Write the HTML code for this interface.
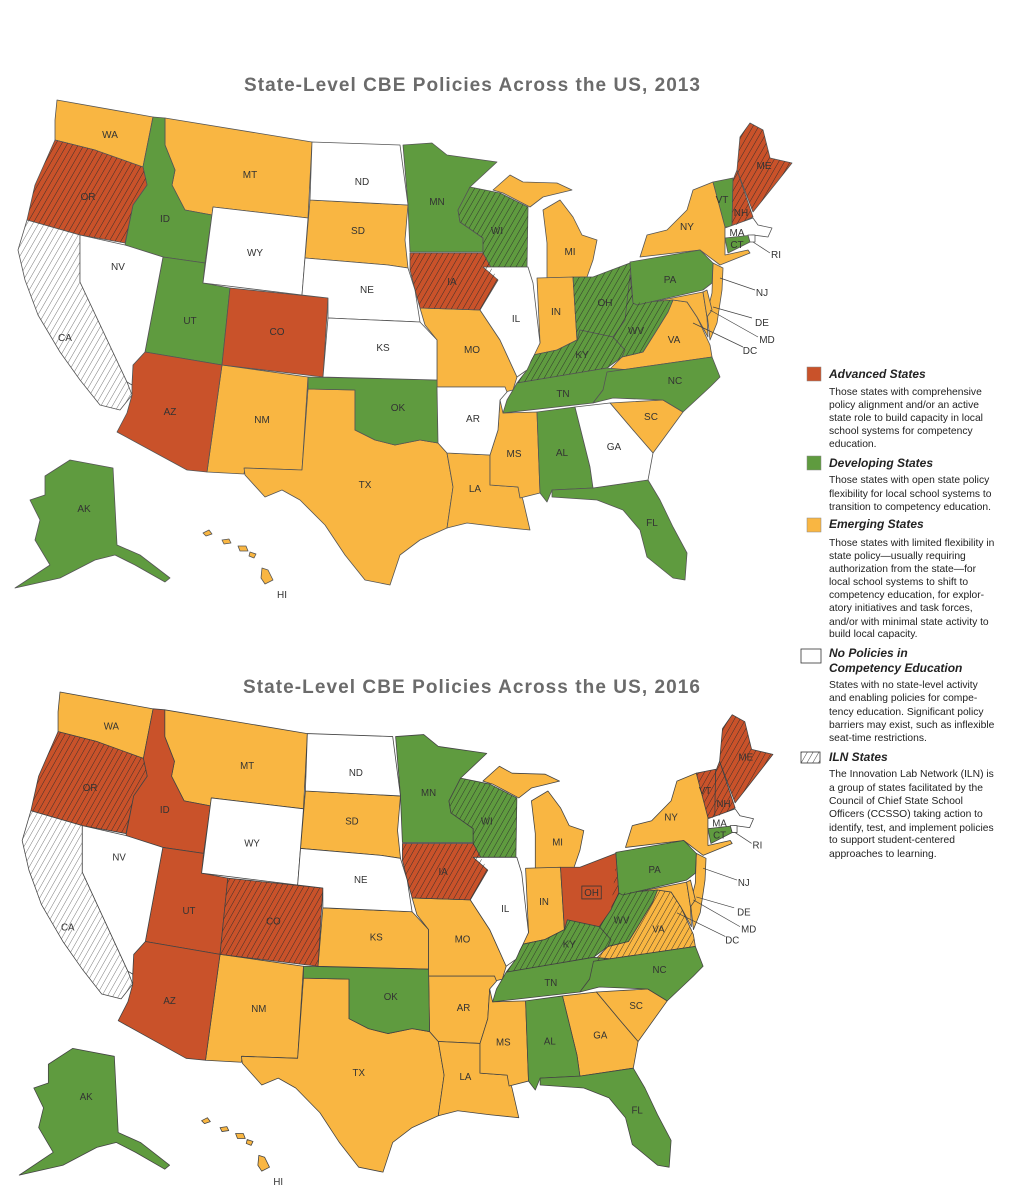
<!DOCTYPE html>
<html><head><meta charset="utf-8"><style>
body{margin:0;background:#fff}
svg{display:block}
.t{font-family:"Liberation Sans",sans-serif;font-weight:bold;font-size:19px;fill:#6b6b6b}
.l{font-family:"Liberation Sans",sans-serif;font-size:10px;fill:#333;text-anchor:middle}
.lg{font-family:"Liberation Sans",sans-serif;font-size:10.3px;fill:#222}
.lh{font-family:"Liberation Sans",sans-serif;font-size:12px;font-weight:bold;font-style:italic;fill:#222}
</style></head><body>
<svg width="1022" height="1200" viewBox="0 0 1022 1200" xmlns="http://www.w3.org/2000/svg">
<defs>
<pattern id="h" patternUnits="userSpaceOnUse" width="5" height="5" patternTransform="rotate(30)">
<line x1="0" y1="0" x2="0" y2="5" stroke="#2a2a2a" stroke-width="0.9"/></pattern>
<pattern id="hg" patternUnits="userSpaceOnUse" width="5" height="5" patternTransform="rotate(30)">
<line x1="0" y1="0" x2="0" y2="5" stroke="#555" stroke-width="0.8"/></pattern>
<path id="WA" d="M57,100 L153,117 L143,167 L120,162 L95,150 L55,140 L55,120 Z"/>
<path id="OR" d="M55,140 L95,150 L143,167 L147,185 L133,205 L125,243 L80,235 L27,220 L35,185 Z"/>
<path id="CA" d="M27,220 L80,235 L80,282 L127,382 L132,395 L120,410 L100,405 L80,380 L60,352 L38,315 L25,280 L18,250 Z"/>
<path id="NV" d="M80,235 L125,245 L163,257 L145,352 L133,365 L132,385 L127,382 L80,282 Z"/>
<path id="ID" d="M153,117 L165,118 L165,145 L175,170 L172,185 L185,210 L212,215 L205,263 L163,257 L125,245 L133,205 L147,185 L143,167 Z"/>
<path id="MT" d="M165,118 L312,142 L308,218 L213,207 L212,215 L185,210 L172,185 L175,170 L165,145 Z"/>
<path id="WY" d="M213,207 L308,218 L302,295 L203,283 Z"/>
<path id="UT" d="M163,257 L205,263 L203,283 L230,288 L222,365 L145,352 Z"/>
<path id="CO" d="M230,288 L328,298 L323,377 L222,365 Z"/>
<path id="AZ" d="M145,352 L222,365 L207,472 L187,470 L117,432 L127,413 L132,395 L132,385 L133,365 Z"/>
<path id="NM" d="M222,365 L308,377 L302,470 L245,468 L244,474 L207,472 Z"/>
<path id="ND" d="M312,142 L400,145 L408,205 L310,200 Z"/>
<path id="SD" d="M310,200 L408,205 L405,240 L408,268 L388,265 L305,258 Z"/>
<path id="NE" d="M305,258 L388,265 L408,268 L415,290 L420,322 L328,318 L328,298 L302,295 Z"/>
<path id="KS" d="M328,318 L420,322 L437,340 L437,380 L323,377 Z"/>
<path id="OK" d="M308,377 L437,380 L438,443 L420,440 L395,445 L375,440 L355,430 L355,390 L308,389 Z"/>
<path id="TX" d="M308,389 L355,390 L355,430 L375,440 L395,445 L420,440 L438,443 L447,453 L453,487 L447,528 L420,540 L400,555 L390,585 L365,580 L345,555 L325,525 L300,500 L282,490 L265,497 L245,475 L244,468 L302,470 Z"/>
<path id="MN" d="M403,145 L432,143 L447,155 L497,162 L470,187 L458,210 L460,222 L483,238 L483,252 L410,252 L408,205 Z"/>
<path id="IA" d="M410,253 L483,253 L498,280 L480,310 L420,308 L415,290 L410,270 Z"/>
<path id="MO" d="M420,308 L480,310 L500,340 L517,377 L513,390 L505,392 L505,387 L437,387 L437,340 L425,325 Z"/>
<path id="AR" d="M437,387 L505,387 L507,392 L500,400 L498,430 L490,455 L447,453 L438,443 Z"/>
<path id="LA" d="M447,453 L490,455 L490,485 L518,487 L523,500 L530,530 L500,527 L467,523 L447,528 L453,487 Z"/>
<path id="WI" d="M470,187 L500,193 L528,207 L527,267 L483,267 L483,238 L460,222 L458,210 Z"/>
<path id="MI" d="M493,190 L510,175 L523,182 L557,183 L572,190 L543,197 L530,207 L503,193 Z M547,243 L543,210 L560,200 L573,217 L582,235 L597,240 L593,260 L587,277 L547,278 Z"/>
<path id="IL" d="M483,267 L528,267 L533,283 L540,343 L527,370 L517,377 L500,340 L480,310 L498,280 Z"/>
<path id="IN" d="M537,278 L573,277 L577,340 L557,350 L533,355 L540,343 Z"/>
<path id="OH" d="M573,277 L593,277 L630,263 L633,303 L625,320 L613,337 L580,330 L577,340 Z"/>
<path id="KY" d="M517,383 L527,370 L533,355 L557,350 L577,340 L580,330 L613,337 L625,350 L622,357 L607,368 Z"/>
<path id="WV" d="M630,275 L633,303 L673,300 L668,312 L655,333 L643,352 L622,357 L625,350 L613,337 L625,320 Z"/>
<path id="PA" d="M630,262 L700,250 L713,263 L712,283 L703,290 L637,305 L633,303 Z"/>
<path id="NY" d="M640,257 L647,235 L667,230 L687,210 L693,190 L713,182 L725,223 L725,255 L748,250 L750,253 L720,265 L700,250 Z"/>
<path id="VT" d="M713,182 L733,178 L732,227 L725,227 Z"/>
<path id="NH" d="M733,180 L737,170 L753,217 L732,227 Z"/>
<path id="ME" d="M737,170 L740,137 L750,123 L763,130 L770,158 L792,163 L777,182 L753,212 Z"/>
<path id="MA" d="M725,228 L753,218 L758,225 L772,228 L768,237 L753,235 L725,238 Z"/>
<path id="CT" d="M725,238 L748,235 L750,242 L728,253 Z"/>
<path id="RI" d="M748,235 L755,235 L755,242 L750,242 Z"/>
<path id="NJ" d="M713,263 L723,268 L722,290 L717,323 L710,340 L707,313 L712,293 Z"/>
<path id="MD" d="M637,305 L703,292 L707,317 L708,337 L697,317 L687,302 L673,300 Z"/>
<path id="DE" d="M703,292 L707,290 L712,310 L707,317 Z"/>
<path id="VA" d="M673,300 L687,302 L697,317 L710,345 L712,357 L607,372 L622,357 L643,352 L655,333 L668,312 Z"/>
<path id="TN" d="M517,383 L607,368 L630,370 L603,390 L593,403 L503,413 L507,400 L513,390 Z"/>
<path id="NC" d="M607,372 L712,357 L720,377 L710,387 L683,412 L663,400 L613,398 L593,403 L603,390 Z"/>
<path id="SC" d="M610,403 L663,400 L683,412 L653,453 L633,430 Z"/>
<path id="GA" d="M575,407 L610,403 L633,430 L653,453 L648,480 L593,488 L590,467 Z"/>
<path id="AL" d="M537,412 L575,407 L590,467 L593,488 L552,490 L547,502 L540,493 Z"/>
<path id="MS" d="M503,413 L537,412 L540,493 L520,498 L518,487 L490,485 L490,455 L498,430 L500,400 Z"/>
<path id="FL" d="M552,490 L593,488 L648,480 L660,500 L673,527 L687,553 L685,580 L673,578 L647,557 L640,530 L623,510 L597,500 L567,498 L552,497 Z"/>
<path id="AK" d="M45,476 L70,460 L113,468 L117,545 L140,555 L170,578 L165,582 L135,565 L115,555 L95,560 L60,578 L15,588 L50,565 L35,540 L40,520 L30,500 L45,495 Z"/>
<path id="HI" d="M203,533 l6,-3 l3,4 l-6,2 Z M222,540 l7,-1 l2,4 l-7,1 Z M238,546 l8,0 l2,5 l-8,0 Z M250,552 l6,2 l-2,4 l-5,-2 Z M262,568 l6,2 l5,10 l-8,4 l-4,-6 Z"/>
</defs>

<text class="t" x="244" y="91" textLength="456">State-Level CBE Policies Across the US, 2013</text>
<text class="t" x="243" y="693" textLength="457">State-Level CBE Policies Across the US, 2016</text>

<!-- MAP 2013 -->
<g stroke="#555" stroke-width="0.8" stroke-linejoin="round">
<g fill="#f9b642"><use href="#WA"/><use href="#MT"/><use href="#SD"/><use href="#NM"/><use href="#TX"/><use href="#MO"/><use href="#LA"/><use href="#MI"/><use href="#IN"/><use href="#MS"/><use href="#SC"/><use href="#VA"/><use href="#NY"/><use href="#NJ"/><use href="#MD"/><use href="#DE"/><use href="#HI"/></g>
<g fill="#5f9b3f"><use href="#ID"/><use href="#UT"/><use href="#OK"/><use href="#MN"/><use href="#WI"/><use href="#OH"/><use href="#KY"/><use href="#WV"/><use href="#TN"/><use href="#AL"/><use href="#FL"/><use href="#NC"/><use href="#PA"/><use href="#VT"/><use href="#CT"/><use href="#AK"/></g>
<g fill="#c9522a"><use href="#OR"/><use href="#CO"/><use href="#AZ"/><use href="#IA"/><use href="#NH"/><use href="#ME"/></g>
<g fill="#fff"><use href="#CA"/><use href="#NV"/><use href="#WY"/><use href="#ND"/><use href="#NE"/><use href="#KS"/><use href="#AR"/><use href="#IL"/><use href="#GA"/><use href="#MA"/><use href="#RI"/></g>
<g fill="url(#h)" stroke="none"><use href="#OR"/><use href="#IA"/><use href="#WI"/><use href="#OH"/><use href="#KY"/><use href="#WV"/><use href="#NH"/><use href="#ME"/></g>
<g fill="url(#hg)" stroke="none"><use href="#CA"/></g>
</g>
<g class="l">
<text x="110" y="138">WA</text><text x="88" y="200">OR</text><text x="165" y="222">ID</text><text x="250" y="178">MT</text><text x="362" y="185">ND</text><text x="358" y="234">SD</text><text x="255" y="256">WY</text><text x="367" y="293">NE</text><text x="118" y="270">NV</text><text x="190" y="324">UT</text><text x="277" y="335">CO</text><text x="383" y="351">KS</text><text x="65" y="341">CA</text><text x="170" y="415">AZ</text><text x="262" y="423">NM</text><text x="398" y="411">OK</text><text x="365" y="488">TX</text><text x="84" y="512">AK</text><text x="282" y="598">HI</text><text x="437" y="205">MN</text><text x="497" y="234">WI</text><text x="452" y="285">IA</text><text x="472" y="353">MO</text><text x="473" y="422">AR</text><text x="475" y="492">LA</text><text x="514" y="457">MS</text><text x="562" y="456">AL</text><text x="516" y="322">IL</text><text x="556" y="315">IN</text><text x="570" y="255">MI</text><text x="605" y="306">OH</text><text x="582" y="358">KY</text><text x="563" y="397">TN</text><text x="614" y="450">GA</text><text x="652" y="526">FL</text><text x="651" y="420">SC</text><text x="675" y="384">NC</text><text x="674" y="343">VA</text><text x="636" y="334">WV</text><text x="670" y="283">PA</text><text x="687" y="230">NY</text><text x="722" y="203">VT</text><text x="741" y="216">NH</text><text x="764" y="169">ME</text><text x="737" y="236">MA</text><text x="737" y="248">CT</text>
<text x="776" y="258">RI</text><text x="762" y="296">NJ</text><text x="762" y="326">DE</text><text x="767" y="343">MD</text><text x="750" y="354">DC</text>
</g>
<g stroke="#444" stroke-width="0.7"><line x1="753" y1="242" x2="770" y2="253"/><line x1="720" y1="278" x2="755" y2="290"/><line x1="713" y1="307" x2="752" y2="318"/><line x1="710" y1="310" x2="758" y2="337"/><line x1="693" y1="323" x2="743" y2="347"/></g>

<!-- MAP 2016 -->
<g transform="translate(4.7,593) scale(0.97,0.99)">
<g stroke="#444" stroke-width="0.8" stroke-linejoin="round">
<g fill="#f9b642"><use href="#WA"/><use href="#MT"/><use href="#SD"/><use href="#NM"/><use href="#TX"/><use href="#KS"/><use href="#MO"/><use href="#AR"/><use href="#LA"/><use href="#MI"/><use href="#IN"/><use href="#MS"/><use href="#GA"/><use href="#SC"/><use href="#VA"/><use href="#NY"/><use href="#NJ"/><use href="#MD"/><use href="#DE"/><use href="#HI"/></g>
<g fill="#5f9b3f"><use href="#OK"/><use href="#MN"/><use href="#WI"/><use href="#KY"/><use href="#WV"/><use href="#TN"/><use href="#AL"/><use href="#FL"/><use href="#NC"/><use href="#PA"/><use href="#CT"/><use href="#AK"/></g>
<g fill="#c9522a"><use href="#OR"/><use href="#ID"/><use href="#UT"/><use href="#CO"/><use href="#AZ"/><use href="#IA"/><use href="#OH"/><use href="#VT"/><use href="#NH"/><use href="#ME"/></g>
<g fill="#fff"><use href="#CA"/><use href="#NV"/><use href="#WY"/><use href="#ND"/><use href="#NE"/><use href="#IL"/><use href="#MA"/><use href="#RI"/></g>
<g fill="url(#h)" stroke="none"><use href="#OR"/><use href="#CO"/><use href="#IA"/><use href="#WI"/><use href="#KY"/><use href="#WV"/><use href="#VA"/><use href="#VT"/><use href="#NH"/><use href="#ME"/></g>
<g fill="url(#hg)" stroke="none"><use href="#CA"/></g>
</g>
<g class="l">
<text x="110" y="138">WA</text><text x="88" y="200">OR</text><text x="165" y="222">ID</text><text x="250" y="178">MT</text><text x="362" y="185">ND</text><text x="358" y="234">SD</text><text x="255" y="256">WY</text><text x="367" y="293">NE</text><text x="118" y="270">NV</text><text x="190" y="324">UT</text><text x="277" y="335">CO</text><text x="383" y="351">KS</text><text x="65" y="341">CA</text><text x="170" y="415">AZ</text><text x="262" y="423">NM</text><text x="398" y="411">OK</text><text x="365" y="488">TX</text><text x="84" y="512">AK</text><text x="282" y="598">HI</text><text x="437" y="205">MN</text><text x="497" y="234">WI</text><text x="452" y="285">IA</text><text x="472" y="353">MO</text><text x="473" y="422">AR</text><text x="475" y="492">LA</text><text x="514" y="457">MS</text><text x="562" y="456">AL</text><text x="516" y="322">IL</text><text x="556" y="315">IN</text><text x="570" y="255">MI</text><text x="605" y="306">OH</text><text x="582" y="358">KY</text><text x="563" y="397">TN</text><text x="614" y="450">GA</text><text x="652" y="526">FL</text><text x="651" y="420">SC</text><text x="675" y="384">NC</text><text x="674" y="343">VA</text><text x="636" y="334">WV</text><text x="670" y="283">PA</text><text x="687" y="230">NY</text><text x="722" y="203">VT</text><text x="741" y="216">NH</text><text x="764" y="169">ME</text><text x="737" y="236">MA</text><text x="737" y="248">CT</text>
<text x="776" y="258">RI</text><text x="762" y="296">NJ</text><text x="762" y="326">DE</text><text x="767" y="343">MD</text><text x="750" y="354">DC</text>
</g>
<rect x="595" y="296" width="20" height="13" fill="none" stroke="#333" stroke-width="0.8"/>
<g stroke="#444" stroke-width="0.7"><line x1="753" y1="242" x2="770" y2="253"/><line x1="720" y1="278" x2="755" y2="290"/><line x1="713" y1="307" x2="752" y2="318"/><line x1="710" y1="310" x2="758" y2="337"/><line x1="693" y1="323" x2="743" y2="347"/></g>
</g>

<!-- LEGEND -->
<rect x="807" y="367" width="14" height="14" fill="#c9522a" stroke="#888" stroke-width="0.5"/>
<text class="lh" x="829" y="378">Advanced States</text>
<g class="lg"><text x="829" y="395">Those states with comprehensive</text><text x="829" y="408">policy alignment and/or an active</text><text x="829" y="421">state role to build capacity in local</text><text x="829" y="434">school systems for competency</text><text x="829" y="447">education.</text></g>
<rect x="807" y="456" width="14" height="14" fill="#5f9b3f" stroke="#888" stroke-width="0.5"/>
<text class="lh" x="829" y="467">Developing States</text>
<g class="lg"><text x="829" y="483">Those states with open state policy</text><text x="829" y="497">flexibility for local school systems to</text><text x="829" y="510">transition to competency education.</text></g>
<rect x="807" y="518" width="14" height="14" fill="#f9b642" stroke="#888" stroke-width="0.5"/>
<text class="lh" x="829" y="528">Emerging States</text>
<g class="lg"><text x="829" y="546">Those states with limited flexibility in</text><text x="829" y="559">state policy—usually requiring</text><text x="829" y="572">authorization from the state—for</text><text x="829" y="585">local school systems to shift to</text><text x="829" y="598">competency education, for explor-</text><text x="829" y="611">atory initiatives and task forces,</text><text x="829" y="625">and/or with minimal state activity to</text><text x="829" y="637">build local capacity.</text></g>
<rect x="801" y="649" width="20" height="14" fill="#fff" stroke="#333" stroke-width="0.8"/>
<text class="lh" x="829" y="657">No Policies in</text>
<text class="lh" x="829" y="672">Competency Education</text>
<g class="lg"><text x="829" y="688">States with no state-level activity</text><text x="829" y="701">and enabling policies for compe-</text><text x="829" y="715">tency education. Significant policy</text><text x="829" y="728">barriers may exist, such as inflexible</text><text x="829" y="741">seat-time restrictions.</text></g>
<rect x="801" y="752" width="19" height="11" fill="url(#h)" stroke="#333" stroke-width="0.8"/>
<text class="lh" x="829" y="761">ILN States</text>
<g class="lg"><text x="829" y="777">The Innovation Lab Network (ILN) is</text><text x="829" y="791">a group of states facilitated by the</text><text x="829" y="804">Council of Chief State School</text><text x="829" y="817">Officers (CCSSO) taking action to</text><text x="829" y="831">identify, test, and implement policies</text><text x="829" y="843">to support student-centered</text><text x="829" y="857">approaches to learning.</text></g>
</svg>
</body></html>
